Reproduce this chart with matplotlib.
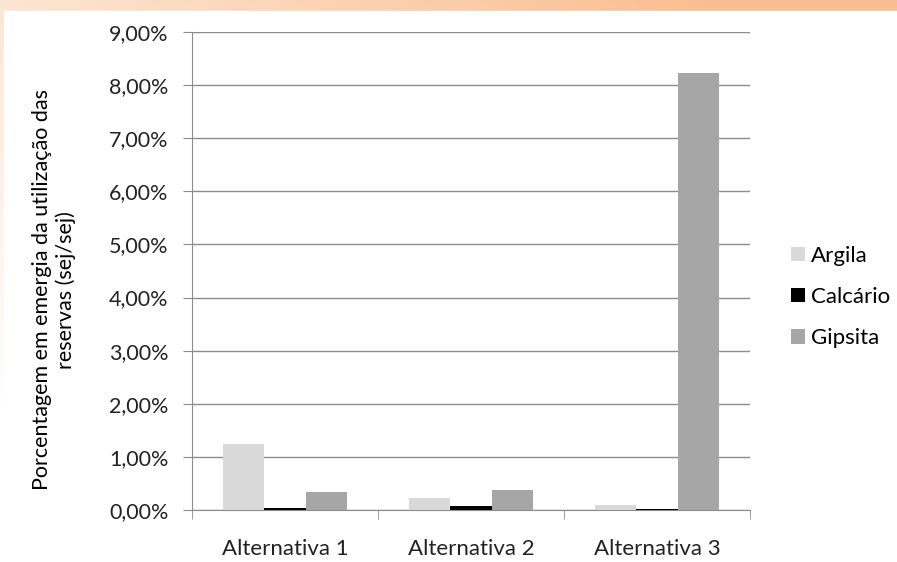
import numpy as np
import matplotlib
matplotlib.use('Agg')
import matplotlib.pyplot as plt
from matplotlib.patches import Rectangle
from matplotlib.ticker import FuncFormatter, MultipleLocator

# Data (percent)
categories = ['Alternativa 1', 'Alternativa 2', 'Alternativa 3']
series_names = ['Argila', 'Calcário', 'Gipsita']
argila = [1.25, 0.23, 0.09]
calcario = [0.04, 0.07, 0.025]
gipsita = [0.335, 0.385, 8.23]
series_colors = ['#d9d9d9', '#000000', '#a6a6a6']

plt.rcParams['font.family'] = ['Lato', 'DejaVu Sans']

fig = plt.figure(figsize=(8.97, 5.62), dpi=100)

# Slide background: orange gradient with a white chart area
bg = fig.add_axes([0, 0, 1, 1], zorder=-10)
H, W = 562, 897
yy, xx = np.mgrid[0:H, 0:W]
t = np.clip(0.75 * xx / W + 0.55 * (1 - yy / H) - 0.15, 0, 1)
orange = np.array([249, 190, 143]) / 255.0
img = 1 - t[..., None] * (1 - orange)
bg.imshow(img, extent=[0, W, H, 0], aspect='auto')
bg.add_patch(Rectangle((4, 11), W, H, color='white'))
bg.set_xlim(0, W)
bg.set_ylim(H, 0)
bg.axis('off')

ax = fig.add_axes([192 / 897, 1 - 510 / 562, (750 - 192) / 897, (510 - 32) / 562])
ax.set_facecolor('none')

x = np.arange(len(categories))
w = 1 / 4.5
for i, (vals, name, col) in enumerate(zip([argila, calcario, gipsita], series_names, series_colors)):
    ax.bar(x + (i - 1) * w, vals, width=w, color=col, label=name, zorder=3)

ax.set_xlim(-0.5, 2.5)
ax.set_ylim(0, 9)
ax.yaxis.set_major_locator(MultipleLocator(1))
ax.yaxis.set_major_formatter(FuncFormatter(lambda v, p: f'{v:.2f}%'.replace('.', ',')))
ax.grid(axis='y', color='#8c8c8c', linewidth=1, zorder=0)
ax.set_axisbelow(True)

ax.set_xticks(x)
ax.set_xticklabels(categories)
ax.set_xticks([-0.5, 0.5, 1.5, 2.5], minor=True)
ax.tick_params(axis='x', which='major', length=0, pad=21, labelsize=16, colors='#222222')
ax.tick_params(axis='x', which='minor', length=6.5, color='#8c8c8c', direction='out')
ax.tick_params(axis='y', length=6.5, color='#8c8c8c', pad=10.5, labelsize=15.5, labelcolor='#222222')

for s in ['top', 'right']:
    ax.spines[s].set_visible(False)
for s in ['left', 'bottom']:
    ax.spines[s].set_color('#8c8c8c')

fig.text(54 / 897, 1 - 290 / 562, 'Porcentagem em emergia da utilização das\nreservas (sej/sej)',
         rotation=90, ha='center', va='center', multialignment='center', fontsize=15.5,
         color='#000000', linespacing=1.25)

ax.legend(loc='center left', bbox_to_anchor=(791 / 897, 1 - 297 / 562), bbox_transform=fig.transFigure,
          frameon=False, fontsize=16, handlelength=0.63, handleheight=0.63, handletextpad=0.27,
          labelspacing=0.95, borderpad=0, borderaxespad=0)

fig.savefig('out.png', dpi=100)
